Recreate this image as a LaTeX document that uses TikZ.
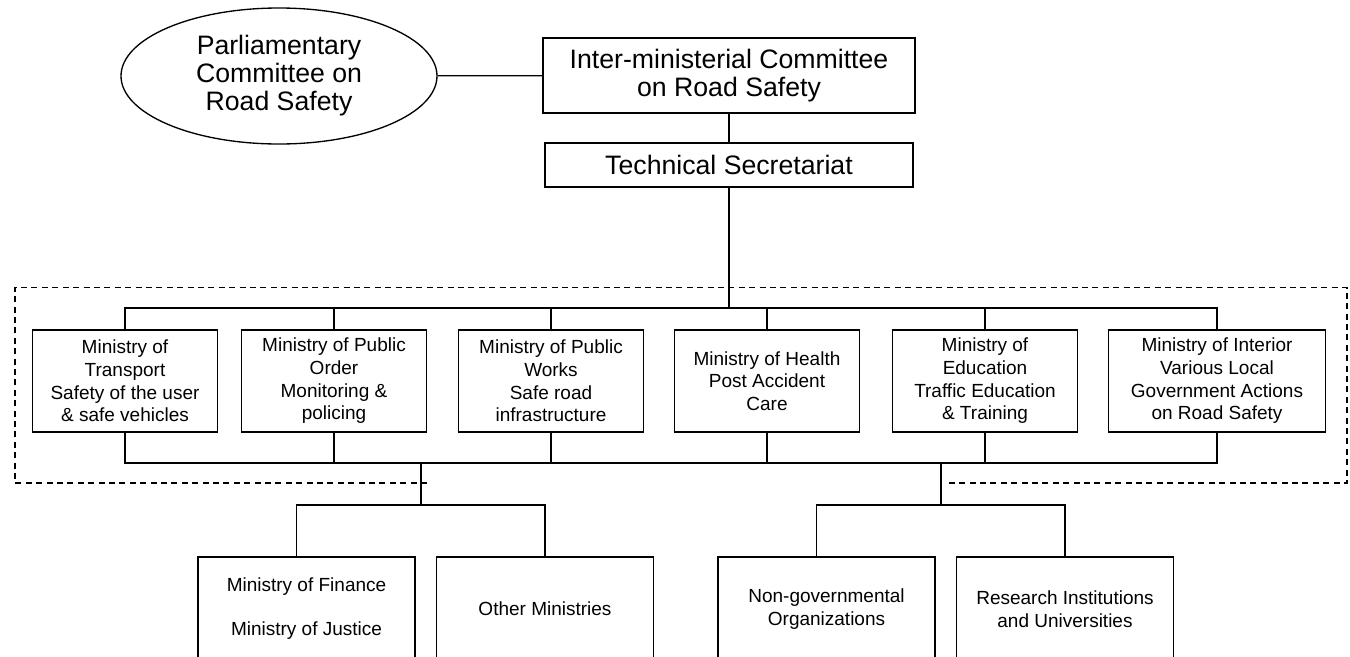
\documentclass[tikz,border=0pt]{standalone}
\usepackage{fontspec}
\setmainfont{Liberation Sans}
\usetikzlibrary{shapes.geometric,positioning}
\tikzstyle{block} = [draw, rectangle, align=center, inner sep=0pt, minimum width=138.75pt, minimum height=76.5pt, font=\fontsize{14.25}{17}\selectfont]
\tikzstyle{lower} = [block, minimum width=162.75pt, minimum height=78pt]
\tikzstyle{head} = [draw, rectangle, align=center, inner sep=0pt, font=\fontsize{20}{21}\selectfont]
\tikzstyle{bubble} = [draw, ellipse, align=center, inner sep=0pt, minimum width=237pt, minimum height=102pt, font=\fontsize{20}{21}\selectfont]
\tikzstyle{frame} = [dash pattern=on 4.5pt off 3.3pt, line width=0.8pt]
\tikzstyle{joint} = [coordinate]

\begin{document}
\begin{tikzpicture}[x=0.75pt, y=-0.75pt, line width=1pt]
\clip (0,0) rectangle (1350,657);

% committee level
\node [bubble] (parl) at (279,76) {Parliamentary\\Committee on\\Road Safety};
\node [head, minimum width=279pt, minimum height=56.25pt] (inter) at (729,75.5) {Inter-ministerial Committee\\on Road Safety};
\node [head, minimum width=276pt, minimum height=33pt] (tech) at (729,165) {Technical Secretariat};

% ministries
\node [block] (m1) at (125,381) {Ministry of\\Transport\\Safety of the user\\\& safe vehicles};
\node [block] (m2) at (334,381) {Ministry of Public\\Order\\Monitoring \&\\policing};
\node [block] (m3) at (551,381) {Ministry of Public\\Works\\Safe road\\infrastructure};
\node [block] (m4) at (767,381) {Ministry of Health\\Post Accident\\Care};
\node [block] (m5) at (985,381) {Ministry of\\Education\\Traffic Education\\\& Training};
\node [block, minimum width=162.75pt] (m6) at (1217,381) {Ministry of Interior\\Various Local\\Government Actions\\on Road Safety};

% other bodies
\node [lower] (fin) at (306.5,609) {Ministry of Finance\\[16pt]Ministry of Justice};
\node [lower] (oth) at (545,609) {Other Ministries};
\node [lower] (ngo) at (826.5,609) {Non-governmental\\Organizations};
\node [lower] (res) at (1065,609) {Research Institutions\\and Universities};

\node [joint] (top) at (729,308) {};
\node [joint] (bot) at (421,463) {};
\node [joint] (bot2) at (941,463) {};
\node [joint] (lsplit) at (421,505) {};
\node [joint] (rsplit) at (941,505) {};

\draw (parl) -- (inter);
\draw (inter) -- (tech);
\draw (tech.south) -- (top);

\draw (m1.north) |- (top) -| (m6.north);
\draw (m1.south) |- (bot) -| (m6.south);
\foreach \m in {m2,m3,m4,m5} {
  \draw (\m.north) -- (\m.north |- top);
  \draw (\m.south) -- (\m.south |- bot);
}

\draw (bot) -- (lsplit);
\draw ([xshift=-7.5pt]fin.north) |- (lsplit) -| (oth.north);
\draw (bot2) -- (rsplit);
\draw ([xshift=-7.5pt]ngo.north) |- (rsplit) -| (res.north);

% dashed frame round the ministries
\draw [frame] (427,483) -- (15,483) -- (15,287.5) -- (1347,287.5) -- (1347,483) -- (946,483);
\end{tikzpicture}
\end{document}
